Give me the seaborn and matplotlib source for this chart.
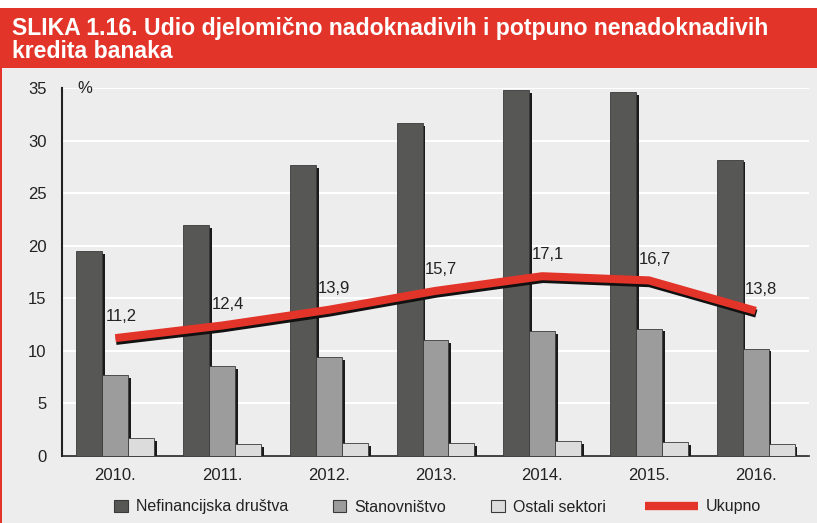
import numpy as np
import pandas as pd
import matplotlib
matplotlib.use("Agg")
import matplotlib.pyplot as plt
import matplotlib.patheffects as pe
from matplotlib.patches import Rectangle
from matplotlib.lines import Line2D
import seaborn as sns

# ========== DATA ==========
years = ["2010.", "2011.", "2012.", "2013.", "2014.", "2015.", "2016."]
series_names = ["Nefinancijska društva", "Stanovništvo", "Ostali sektori"]
nefinancijska = [19.5, 22.0, 27.7, 31.7, 34.8, 34.6, 28.2]
stanovnistvo = [7.7, 8.5, 9.4, 11.0, 11.9, 12.1, 10.2]
ostali = [1.7, 1.1, 1.2, 1.2, 1.4, 1.3, 1.1]
ukupno = [11.2, 12.4, 13.9, 15.7, 17.1, 16.7, 13.8]
ukupno_labels = ["11,2", "12,4", "13,9", "15,7", "17,1", "16,7", "13,8"]

title = "SLIKA 1.16. Udio djelomično nadoknadivih i potpuno nenadoknadivih\nkredita banaka"

# ========== STYLE ==========
sns.set_style("white")
plt.rcParams['font.family'] = ['Liberation Sans', 'DejaVu Sans']
BG = "#ededed"
RED = "#e3342a"
TXT = "#222222"
bar_colors = ["#575755", "#9c9c9c", "#dcdcdc"]

df = pd.DataFrame({
    "year": years * 3,
    "value": nefinancijska + stanovnistvo + ostali,
    "series": [series_names[0]] * 7 + [series_names[1]] * 7 + [series_names[2]] * 7,
})

fig = plt.figure(figsize=(8.17, 5.23), dpi=100)
fig.patch.set_facecolor(BG)

# header band + thin red left border
fig.patches.append(Rectangle((0, 1 - 68 / 523), 1, 60 / 523, transform=fig.transFigure,
                             facecolor=RED, edgecolor="none", zorder=0))
fig.patches.append(Rectangle((0, 1 - 8 / 523), 1, 8 / 523, transform=fig.transFigure,
                             facecolor="white", edgecolor="none", zorder=0))
fig.patches.append(Rectangle((0, 0), 2 / 817, 1 - 8 / 523, transform=fig.transFigure,
                             facecolor=RED, edgecolor="none", zorder=1))
fig.text(12 / 817, 1 - 40 / 523, title, color="white", fontsize=16.6, fontweight="bold",
         va="center", ha="left", linespacing=1.0)

ax = fig.add_axes([62 / 817, 1 - 455.7 / 523, (809 - 62) / 817, (455.7 - 88.3) / 523])
ax.set_facecolor(BG)

sns.barplot(data=df, x="year", y="value", hue="series", palette=bar_colors,
            width=0.73, ax=ax, edgecolor="#3a3a3a", linewidth=0.6, legend=False, zorder=3)
shadow = [pe.SimplePatchShadow(offset=(2, -2), shadow_rgbFace="#1a1a1a", alpha=1), pe.Normal()]
for p in ax.patches:
    p.set_path_effects(shadow)

# Ukupno line through the middle bars
x = np.arange(len(years))
ax.plot(x, ukupno, color=RED, linewidth=5.8, solid_capstyle="butt", zorder=5,
        path_effects=[pe.SimpleLineShadow(offset=(0.5, -2), shadow_color="#111111", alpha=1),
                      pe.Normal()])
for xi, v, lab in zip(x, ukupno, ukupno_labels):
    ax.annotate(lab, (xi, v), xytext=(4, 10), textcoords="offset points",
                ha="center", va="bottom", fontsize=12, color=TXT, zorder=6)

ax.set_xlim(-0.5, 6.5)
ax.set_ylim(0, 35)
ax.set_yticks(range(0, 36, 5))
ax.yaxis.grid(True, color="white", linewidth=1.5)
ax.set_axisbelow(True)
ax.set_xlabel("")
ax.set_ylabel("")
ax.set_xticks(x)
ax.set_xticklabels(years)
ax.set_xticks(np.arange(-0.5, 7, 1), minor=True)
ax.tick_params(axis="x", which="major", length=0, pad=9, labelsize=12, labelcolor=TXT)
ax.tick_params(axis="x", which="minor", length=5, width=1, color=TXT, direction="out")
ax.tick_params(axis="y", length=6, width=1.2, color="#666666", pad=5, labelsize=12,
               labelcolor=TXT)
for s in ["top", "right"]:
    ax.spines[s].set_visible(False)
ax.spines["left"].set_linewidth(1.5)
ax.spines["left"].set_color(TXT)
ax.spines["bottom"].set_linewidth(1.2)
ax.spines["bottom"].set_color(TXT)
ax.text(0.02, 35, "%", transform=ax.get_yaxis_transform(), fontsize=12, va="center", ha="left",
        color=TXT)

# legend: bar series in one group, the line in another (it sits further right)
sq = [Rectangle((0, 0), 1, 1, facecolor=c, edgecolor="#3a3a3a", linewidth=0.8) for c in bar_colors]
leg_y = 1 - 507 / 523
fig.legend(sq, series_names, loc="center left", bbox_to_anchor=(100 / 817, leg_y),
           ncol=3, frameon=False, fontsize=11.5, handlelength=0.85, handleheight=0.85,
           handletextpad=0.5, columnspacing=2.8, labelcolor=TXT)
ln = [Line2D([0], [0], color=RED, linewidth=6, solid_capstyle="butt")]
fig.legend(ln, ["Ukupno"], loc="center left", bbox_to_anchor=(631 / 817, leg_y),
           frameon=False, fontsize=11.5, handlelength=3.3, handletextpad=0.5, labelcolor=TXT)

fig.savefig("out.png", dpi=100, facecolor=fig.get_facecolor())
